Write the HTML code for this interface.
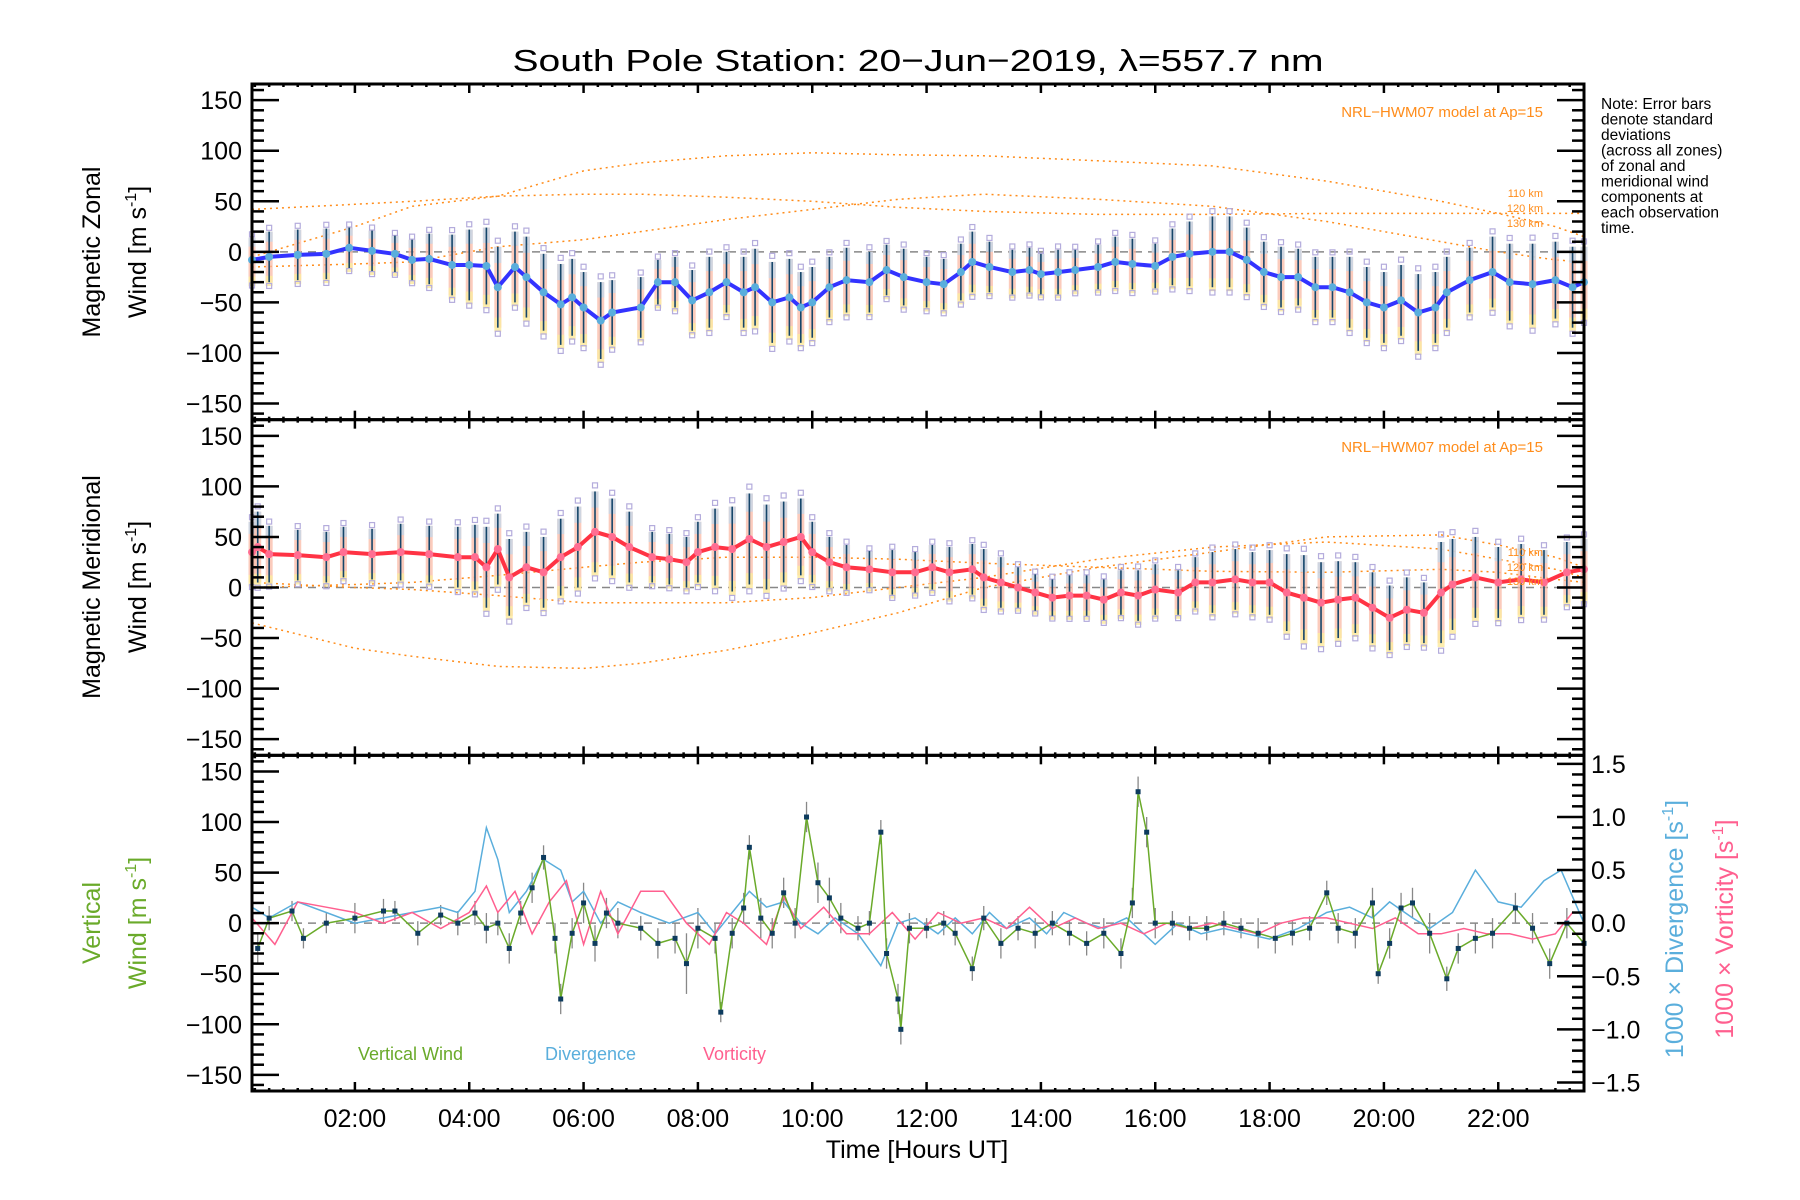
<!DOCTYPE html>
<html><head><meta charset="utf-8"><style>
html,body{margin:0;padding:0;background:#fff}
svg{display:block}
text{font-family:"Liberation Sans",sans-serif}
</style></head><body>
<svg id="chart" width="1800" height="1200" viewBox="0 0 1800 1200" xmlns="http://www.w3.org/2000/svg">
<rect x="0" y="0" width="1800" height="1200" fill="#fff"/>
<text x="918" y="71" font-size="31" text-anchor="middle" textLength="811" lengthAdjust="spacingAndGlyphs">South Pole Station: 20−Jun−2019, λ=557.7 nm</text>
<g id="plots"></g>
<g font-size="15.5" fill="#000">
<text x="1601" y="109">Note: Error bars</text>
<text x="1601" y="124.5">denote standard</text>
<text x="1601" y="140">deviations</text>
<text x="1601" y="155.5">(across all zones)</text>
<text x="1601" y="171">of zonal and</text>
<text x="1601" y="186.5">meridional wind</text>
<text x="1601" y="202">components at</text>
<text x="1601" y="217.5">each observation</text>
<text x="1601" y="233">time.</text>
</g>
<text transform="translate(100,252) rotate(-90)" font-size="25" text-anchor="middle">Magnetic Zonal</text>
<text transform="translate(146,252) rotate(-90)" font-size="25" text-anchor="middle">Wind [m s<tspan dy="-10" font-size="16">-1</tspan><tspan dy="10">]</tspan></text>
<text transform="translate(100,587) rotate(-90)" font-size="25" text-anchor="middle">Magnetic Meridional</text>
<text transform="translate(146,587) rotate(-90)" font-size="25" text-anchor="middle">Wind [m s<tspan dy="-10" font-size="16">-1</tspan><tspan dy="10">]</tspan></text>
<text transform="translate(100,923) rotate(-90)" font-size="25" text-anchor="middle" fill="#6aaa2a">Vertical</text>
<text transform="translate(146,923) rotate(-90)" font-size="25" text-anchor="middle" fill="#6aaa2a">Wind [m s<tspan dy="-10" font-size="16">-1</tspan><tspan dy="10">]</tspan></text>
<text transform="translate(1683,929) rotate(-90)" font-size="25" text-anchor="middle" fill="#5aaedc">1000 × Divergence [s<tspan dy="-10" font-size="16">-1</tspan><tspan dy="10">]</tspan></text>
<text transform="translate(1733,929) rotate(-90)" font-size="25" text-anchor="middle" fill="#ff5f8f">1000 × Vorticity [s<tspan dy="-10" font-size="16">-1</tspan><tspan dy="10">]</tspan></text>
<text x="358" y="1060" font-size="18" fill="#6aaa2a">Vertical Wind</text>
<text x="545" y="1060" font-size="18" fill="#5aaedc">Divergence</text>
<text x="703" y="1060" font-size="18" fill="#ff5f8f">Vorticity</text>
<text x="917" y="1158" font-size="25" text-anchor="middle">Time [Hours UT]</text>
<text x="1543" y="117" font-size="15" text-anchor="end" fill="#ff8c1a">NRL−HWM07 model at Ap=15</text>
<text x="1543" y="452" font-size="15" text-anchor="end" fill="#ff8c1a">NRL−HWM07 model at Ap=15</text>
<g font-size="11" fill="#ff8c1a" text-anchor="end">
<text x="1543" y="197">110 km</text>
<text x="1543" y="212">120 km</text>
<text x="1543" y="227">130 km</text>
<text x="1543" y="556">110 km</text>
<text x="1543" y="571">120 km</text>
<text x="1543" y="585">130 km</text>
</g>
</svg>
<script>
// ---- data ----
const xTickLabels = ["02:00","04:00","06:00","08:00","10:00","12:00","14:00","16:00","18:00","20:00","22:00"];
const xTickHours = [2,4,6,8,10,12,14,16,18,20,22];
const yTickValues = [150,100,50,0,-50,-100,-150];
const rTickValues = [1.5,1.0,0.5,0.0,-0.5,-1.0,-1.5];

const zonalHours = [0.2,0.5,1,1.5,1.9,2.3,2.7,3.0,3.3,3.7,4.0,4.3,4.5,4.8,5.0,5.3,5.6,5.8,6.0,6.3,6.5,7.0,7.3,7.6,7.9,8.2,8.5,8.8,9.0,9.3,9.6,9.8,10.0,10.3,10.6,11.0,11.3,11.6,12.0,12.3,12.6,12.8,13.1,13.5,13.8,14.0,14.3,14.6,15.0,15.3,15.6,16.0,16.3,16.6,17.0,17.3,17.6,17.9,18.2,18.5,18.8,19.1,19.4,19.7,20.0,20.3,20.6,20.9,21.1,21.5,21.9,22.2,22.6,23.0,23.3,23.5];
const zonalWind = [-8,-5,-3,-2,4,1,-2,-8,-7,-13,-13,-14,-35,-15,-25,-40,-52,-45,-55,-68,-60,-55,-30,-30,-48,-40,-30,-40,-35,-50,-45,-55,-50,-35,-28,-30,-18,-25,-30,-32,-20,-10,-15,-20,-18,-22,-20,-18,-15,-10,-12,-14,-5,-2,0,0,-8,-20,-25,-25,-35,-35,-40,-50,-55,-48,-60,-55,-40,-28,-20,-30,-32,-28,-35,-30];
const zonalStd = [22,25,25,25,20,20,18,20,25,30,35,38,40,35,40,38,40,38,35,38,32,30,22,25,30,35,30,35,38,40,38,35,35,30,32,30,25,28,25,25,28,30,25,22,22,20,22,20,22,25,25,22,28,32,35,35,32,30,30,28,30,30,35,35,35,35,38,35,35,32,35,38,40,38,40,35];

const merHours = [0.2,0.3,0.5,1,1.5,1.8,2.3,2.8,3.3,3.8,4.1,4.3,4.5,4.7,5.0,5.3,5.6,5.9,6.2,6.5,6.8,7.2,7.5,7.8,8.0,8.3,8.6,8.9,9.2,9.5,9.8,10.0,10.3,10.6,11.0,11.4,11.8,12.1,12.4,12.8,13.0,13.3,13.6,13.9,14.2,14.5,14.8,15.1,15.4,15.7,16.0,16.4,16.7,17.0,17.4,17.7,18.0,18.3,18.6,18.9,19.2,19.5,19.8,20.1,20.4,20.7,21.0,21.2,21.6,22.0,22.4,22.8,23.2,23.5];
const merWind = [35,40,33,32,30,35,33,35,33,30,30,20,38,10,20,15,30,40,55,50,40,30,28,25,35,40,38,48,40,45,50,35,25,20,18,15,15,20,15,18,10,5,0,-5,-10,-8,-8,-12,-5,-8,-2,-5,5,5,8,5,5,-5,-10,-15,-12,-10,-20,-30,-22,-25,-5,3,10,5,8,5,15,18];
const merStd = [30,35,28,25,25,25,25,28,28,30,32,40,35,38,35,35,38,40,40,38,35,25,25,25,30,38,42,45,42,40,38,30,25,22,18,22,20,22,25,25,28,25,20,18,18,20,20,20,22,25,25,22,25,30,30,30,32,38,42,40,38,35,35,32,32,30,50,45,40,35,35,32,30,30];

const vertHours = [0.3,0.5,0.9,1.1,1.5,2.0,2.5,2.7,3.1,3.5,3.8,4.1,4.3,4.5,4.7,4.9,5.1,5.3,5.5,5.6,5.8,6.0,6.2,6.4,6.6,7.0,7.3,7.6,7.8,8.0,8.3,8.4,8.6,8.8,8.9,9.1,9.3,9.5,9.7,9.9,10.1,10.3,10.5,10.8,11.0,11.2,11.3,11.5,11.55,11.7,12.0,12.3,12.5,12.8,13.0,13.3,13.6,13.9,14.2,14.5,14.8,15.1,15.4,15.6,15.7,15.85,16.0,16.3,16.6,16.9,17.2,17.5,17.8,18.1,18.4,18.7,19.0,19.2,19.5,19.8,19.9,20.1,20.3,20.5,20.8,21.1,21.3,21.6,21.9,22.3,22.6,22.9,23.2,23.5];
const vertWind = [-25,5,12,-15,0,5,12,12,-10,8,0,10,-5,0,-25,10,35,65,-15,-75,-10,20,-20,10,0,-5,-20,-15,-40,-5,-15,-88,-10,15,75,5,-10,30,0,105,40,25,5,-5,0,90,-30,-75,-105,-5,-5,0,-10,-45,5,-20,-5,-10,0,-10,-20,-10,-30,20,130,90,0,0,-5,-5,0,-5,-10,-15,-10,-5,30,-5,-10,20,-50,-20,15,20,-10,-55,-25,-15,-10,15,-5,-40,0,-20];
const vertStd = [15,12,10,10,10,15,12,10,12,10,12,12,15,12,15,12,15,12,15,15,15,20,18,15,15,12,15,15,30,20,15,10,15,15,12,20,15,15,15,15,20,20,15,12,12,12,15,15,15,15,10,12,12,12,12,15,12,15,12,12,12,15,15,15,15,15,15,12,12,12,12,10,15,15,12,12,12,15,15,15,10,15,15,15,20,12,15,15,15,15,15,15,15,15];

const divHours = [0.2,0.5,1.0,1.5,2.0,2.5,3.0,3.5,3.8,4.1,4.3,4.5,4.7,5.0,5.3,5.6,5.8,6.0,6.3,6.6,7.0,7.5,8.0,8.3,8.6,8.9,9.2,9.5,9.8,10.1,10.4,10.8,11.2,11.5,11.8,12.2,12.5,12.8,13.1,13.4,13.8,14.1,14.4,14.8,15.1,15.5,15.8,16.0,16.4,16.8,17.2,17.6,18.0,18.5,19.0,19.4,19.8,20.1,20.5,20.8,21.2,21.6,22.0,22.4,22.8,23.1,23.5];
const divergence = [0.15,0.05,0.2,0.1,0.0,0.05,0.1,0.15,0.1,0.3,0.9,0.6,0.1,0.3,0.6,0.5,0.2,0.3,0.0,0.2,0.1,0.0,0.1,-0.1,0.1,0.3,0.15,0.2,0.0,-0.1,0.05,-0.1,-0.4,0.0,0.05,-0.1,0.05,-0.1,0.1,-0.05,0.05,-0.1,0.1,0.0,-0.05,0.05,-0.1,-0.2,0.0,-0.1,-0.05,-0.1,-0.15,-0.05,0.1,0.15,0.05,0.2,0.05,-0.05,0.1,0.5,0.2,0.15,0.4,0.5,0.0];
const vorHours = [0.2,0.6,1.0,1.5,2.0,2.5,3.0,3.5,4.0,4.3,4.5,4.8,5.1,5.4,5.7,6.0,6.3,6.6,7.0,7.4,7.8,8.2,8.5,8.8,9.2,9.5,9.8,10.2,10.6,11.0,11.4,11.8,12.2,12.6,13.0,13.4,13.8,14.2,14.6,15.0,15.4,15.8,16.2,16.6,17.0,17.4,17.8,18.2,18.6,19.0,19.4,19.8,20.2,20.6,21.0,21.4,21.8,22.2,22.6,23.0,23.3,23.5];
const vorticity = [0.05,-0.2,0.2,0.15,0.1,0.0,0.1,-0.05,0.1,0.35,0.1,0.3,-0.1,0.2,0.4,-0.2,0.3,-0.1,0.3,0.3,0.0,-0.2,0.1,0.0,-0.2,0.25,-0.05,0.15,-0.1,-0.1,0.1,-0.15,0.1,0.0,0.05,-0.05,0.15,-0.05,0.05,-0.05,0.0,-0.1,0.0,-0.05,0.0,-0.05,-0.1,0.0,0.05,0.05,0.0,-0.05,0.05,-0.1,-0.1,-0.05,-0.1,-0.1,-0.15,-0.1,0.1,0.1];

const modelHours = [0.2,2,3,4.5,6,7,8.5,10,11.5,13,15,17,19,21,22,23,23.5];
const zonalModel110 = [-5,25,45,55,80,88,95,98,96,95,90,85,70,50,38,25,15];
const zonalModel120 = [42,47,50,55,57,57,54,50,44,40,37,37,38,38,38,38,38];
const zonalModel130 = [-15,-12,-10,5,12,20,32,42,52,57,52,45,30,10,0,-8,-10];
const merModel110 = [-35,-60,-68,-78,-80,-75,-62,-45,-25,0,20,35,50,52,42,30,20];
const merModel120 = [5,0,-2,-8,-15,-15,-15,-10,0,10,28,40,45,38,28,18,10];
const merModel130 = [0,3,5,12,20,25,30,30,28,24,20,16,15,18,15,8,5];

// ---- layout ----
const svg = document.getElementById('chart');
const plots = document.getElementById('plots');
const NS = 'http://www.w3.org/2000/svg';
const L = 252, R = 1584, T = 84, B = 1091;
const PH = (B - T) / 3;
const H0 = 0.2, H1 = 23.5, VMAX = 166, RMAX = 1.58;
function xAt(h){ return L + (h - H0) / (H1 - H0) * (R - L); }
function yAt(v, p){ const top = T + p*PH; return top + (VMAX - v) / (2*VMAX) * PH; }
function yR(v){ const top = T + 2*PH; return top + (RMAX - v) / (2*RMAX) * PH; }
function mk(tag, attrs, parent){
  const e = document.createElementNS(NS, tag);
  for (const k in attrs) e.setAttribute(k, attrs[k]);
  (parent || plots).appendChild(e);
  return e;
}
function polyline(hours, vals, yf, stroke, sw, dash, name){
  const pts = hours.map((h,i)=> xAt(h).toFixed(1)+','+yf(vals[i]).toFixed(1)).join(' ');
  const e = mk('polyline', {points: pts, fill:'none', stroke: stroke, 'stroke-width': sw});
  if (dash) e.setAttribute('stroke-dasharray', dash);
  
  
  return e;
}
function zeroLine(p){
  const e = mk('line', {x1:L, x2:R, y1:yAt(0,p), y2:yAt(0,p), stroke:'#888', 'stroke-width':1.5, 'stroke-dasharray':'8,6'});
  
  
}
function windPanel(p, hours, vals, std, lineColor, dotColor, name){
  const g = mk('g', {});
  
  
  hours.forEach((h,i)=>{
    const x = xAt(h), hi = vals[i] + std[i], lo = vals[i] - std[i];
    const band = mk('rect', {x:x-3.5, y:yAt(hi,p), width:7, height:yAt(lo,p)-yAt(hi,p), fill:'#f9b9a6', opacity:0.75}, g);
    
    
    const ylw = mk('rect', {x:x-3.5, y:yAt(lo+std[i]*0.25,p), width:7, height:yAt(lo,p)-yAt(lo+std[i]*0.25,p)+4, fill:'#fbeaa0', opacity:0.85}, g);
    
    
    const cy = mk('rect', {x:x-3.5, y:yAt(hi,p), width:7, height:(yAt(lo,p)-yAt(hi,p))*0.2, fill:'#bcd8f0', opacity:0.7}, g);
    
    
    [hi + std[i]*0.15, lo - std[i]*0.15].forEach(v=>{
      const s = mk('rect', {x:x-2.5, y:yAt(v,p)-2.5, width:5, height:5, fill:'none', stroke:'#b4acdc', 'stroke-width':1.2}, g);
      
      
    });
    const eb = mk('line', {x1:x, x2:x, y1:yAt(hi,p), y2:yAt(lo,p), stroke:'#16466a', 'stroke-width':1.6}, g);
    
    
  });
  polyline(hours, vals, v=>yAt(v,p), lineColor, 4, null, name + '-mean-line');
  hours.forEach((h,i)=>{
    const c = mk('circle', {cx:xAt(h), cy:yAt(vals[i],p), r:4, fill:dotColor});
    
    
  });
}

// model curves
zeroLine(0); zeroLine(1); zeroLine(2);
[zonalModel110, zonalModel120, zonalModel130].forEach((m,k)=> polyline(modelHours, m, v=>yAt(v,0), '#ff8c1a', 1.5, '2,4', 'zonal-model-'+(110+10*k)));
[merModel110, merModel120, merModel130].forEach((m,k)=> polyline(modelHours, m, v=>yAt(v,1), '#ff8c1a', 1.5, '2,4', 'meridional-model-'+(110+10*k)));

windPanel(0, zonalHours, zonalWind, zonalStd, '#3333ff', '#5aaedc', 'zonal');
windPanel(1, merHours, merWind, merStd, '#ff3344', '#ff6e92', 'meridional');

// vertical panel
vertHours.forEach((h,i)=>{
  const e = mk('line', {x1:xAt(h), x2:xAt(h), y1:yAt(vertWind[i]+vertStd[i],2), y2:yAt(vertWind[i]-vertStd[i],2), stroke:'#888', 'stroke-width':1.3});
  
  
});
polyline(divHours, divergence, yR, '#5aaedc', 1.5, null, 'divergence-line');
polyline(vorHours, vorticity, yR, '#ff5f8f', 1.5, null, 'vorticity-line');
polyline(vertHours, vertWind, v=>yAt(v,2), '#6aaa2a', 1.5, null, 'vertical-wind-line');
vertHours.forEach((h,i)=>{
  const e = mk('rect', {x:xAt(h)-2.5, y:yAt(vertWind[i],2)-2.5, width:5, height:5, fill:'#0d3b5e'});
  
  
});

// axes frames & ticks
for (let p=0; p<3; p++){
  const top = T + p*PH;
  const fr = mk('rect', {x:L, y:top, width:R-L, height:PH, fill:'none', stroke:'#000', 'stroke-width':3});
  
  
  for (let v=-160; v<=160; v+=10){
    const major = v % 50 === 0;
    const len = major ? 27 : 12, y = yAt(v,p);
    mk('line', {x1:L, x2:L+len, y1:y, y2:y, stroke:'#000', 'stroke-width':2.5});
    if (p < 2) mk('line', {x1:R, x2:R-len, y1:y, y2:y, stroke:'#000', 'stroke-width':2.5});
  }
  for (let h=0.25; h<=23.5; h+=0.25){
    const major = Math.abs(h % 2) < 1e-6;
    const len = major ? 9 : 3, x = xAt(h);
    mk('line', {x1:x, x2:x, y1:top+PH, y2:top+PH-len, stroke:'#000', 'stroke-width':2.5});
    mk('line', {x1:x, x2:x, y1:top, y2:top+len, stroke:'#000', 'stroke-width':2.5});
  }
  yTickValues.forEach(v=>{
    const t = mk('text', {x:242, y:yAt(v,p)+9, 'font-size':25, 'text-anchor':'end'});
    t.textContent = v < 0 ? '−' + Math.abs(v) : String(v);
    
    
  });
}
for (let v=-1.5; v<=1.5001; v+=0.1){
  const major = Math.abs(Math.round(v*10) % 5) === 0;
  const len = major ? 27 : 12, y = yR(v);
  mk('line', {x1:R, x2:R-len, y1:y, y2:y, stroke:'#000', 'stroke-width':2.5});
}
rTickValues.forEach(v=>{
  const t = mk('text', {x:1591, y:yR(v)+9, 'font-size':25});
  t.textContent = v < 0 ? '−' + Math.abs(v).toFixed(1) : v.toFixed(1);
  
  
});
xTickHours.forEach((h,i)=>{
  const t = mk('text', {x:xAt(h), y:1127, 'font-size':25, 'text-anchor':'middle'});
  t.textContent = xTickLabels[i];
  
  
});
</script>
</body></html>
